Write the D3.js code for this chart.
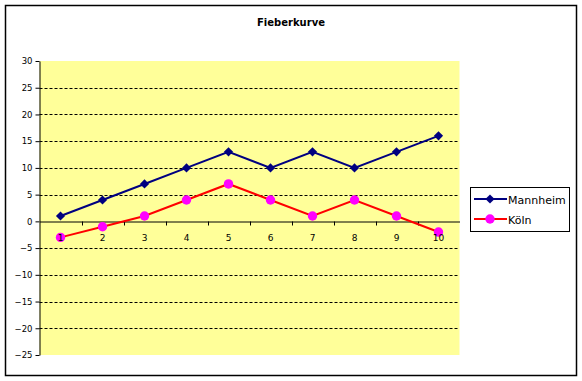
<!DOCTYPE html>
<html><head><meta charset="utf-8">
<script src="https://cdn.jsdelivr.net/npm/d3@7"></script>
<style>body{margin:0;background:#fff;} svg{display:block;}</style>
</head><body>
<script>
const categories = ["1","2","3","4","5","6","7","8","9","10"];
const mannheim = [1,4,7,10,13,10,13,10,13,16];
const koeln = [-3,-1,1,4,7,4,1,4,1,-2];
const yTicks = [30,25,20,15,10,5,0,-5,-10,-15,-20,-25];
const seriesNames = ["Mannheim","Köln"];
const title = "Fieberkurve";

(function(){
const W=582,H=381;
const svg=d3.select("body").append("svg").attr("width",W).attr("height",H);
svg.append("rect").attr("x",5.5).attr("y",5.5).attr("width",571).attr("height",370)
  .attr("fill","#fff").attr("stroke","#000").attr("stroke-width",1.5);

const pl=39.5,pr=459.5,pt=61,pb=355;
const x=d3.scaleBand().domain(categories).range([pl,pr]);
const y=d3.scaleLinear().domain([-25,30]).range([pb,pt]);

svg.append("rect").attr("x",pl).attr("y",pt).attr("width",pr-pl).attr("height",pb-pt).attr("fill","#ffff99");

svg.append("text").attr("x",291).attr("y",26).attr("text-anchor","middle")
  .attr("font-family","DejaVu Sans").attr("font-size",10).attr("font-weight","bold").text(title);

// grid
svg.append("g").selectAll("line").data(yTicks.filter(d=>d!==30&&d!==-25&&d!==0)).join("line")
  .attr("x1",pl).attr("x2",pr).attr("y1",d=>Math.round(y(d))+0.5).attr("y2",d=>Math.round(y(d))+0.5)
  .attr("stroke","#000").attr("stroke-dasharray","3,2");

// y axis
const ya=svg.append("g").attr("transform",`translate(${pl},0)`)
  .call(d3.axisLeft(y).tickValues(yTicks).tickSize(4).tickSizeOuter(0).tickFormat(d3.format("d")));
ya.select(".domain").attr("stroke","#000");
ya.selectAll("text").attr("font-family","DejaVu Sans").attr("font-size",8.5).attr("fill","#000").attr("x",-7);

// x axis line at 0
const y0=Math.round(y(0))+0.5;
const xa=svg.append("g").attr("transform",`translate(0,${y0})`)
  .call(d3.axisBottom(x).tickSize(0).tickSizeOuter(0).tickFormat(""));
xa.select(".domain").attr("stroke","#000");
svg.append("g").selectAll("line").data(categories.slice(1)).join("line")
  .attr("x1",d=>Math.round(x(d))+0.5).attr("x2",d=>Math.round(x(d))+0.5).attr("y1",y0).attr("y2",y0+4).attr("stroke","#000");

const cx=d=>x(d)+x.bandwidth()/2;
const line=d3.line().x((d,i)=>cx(categories[i])).y(d=>y(d));

svg.append("path").datum(mannheim).attr("d",line).attr("fill","none").attr("stroke","#000080").attr("stroke-width",2);
svg.append("path").datum(koeln).attr("d",line).attr("fill","none").attr("stroke","#ff0000").attr("stroke-width",2);

svg.append("g").selectAll("path").data(mannheim).join("path")
  .attr("d",d3.symbol().type(d3.symbolSquare).size(42))
  .attr("transform",(d,i)=>`translate(${cx(categories[i])},${y(d)}) rotate(45)`).attr("fill","#000080");
svg.append("g").selectAll("circle").data(koeln).join("circle")
  .attr("cx",(d,i)=>cx(categories[i])).attr("cy",d=>y(d)).attr("r",4.7).attr("fill","#ff00ff");

// x labels drawn on top
const xl=svg.append("g").attr("transform",`translate(0,${y0})`)
  .call(d3.axisBottom(x).tickSize(0).tickSizeOuter(0));
xl.select(".domain").remove();
xl.selectAll("text").attr("font-family","DejaVu Sans").attr("font-size",9).attr("fill","#000").attr("y",3).attr("dy","1.85em");

// legend
const lg=svg.append("g");
lg.append("rect").attr("x",470.5).attr("y",187.5).attr("width",99).attr("height",44).attr("fill","#fff").attr("stroke","#000");
const colors=["#000080","#ff0000"],mk=["#000080","#ff00ff"];
seriesNames.forEach((n,i)=>{
  const ly=199+i*20;
  lg.append("line").attr("x1",474).attr("x2",507).attr("y1",ly).attr("y2",ly).attr("stroke",colors[i]).attr("stroke-width",2);
  if(i===0) lg.append("path").attr("d",d3.symbol().type(d3.symbolSquare).size(42)).attr("transform",`translate(490,${ly}) rotate(45)`).attr("fill",mk[i]);
  else lg.append("circle").attr("cx",490).attr("cy",ly).attr("r",4.7).attr("fill",mk[i]);
  lg.append("text").attr("x",508).attr("y",ly+4.5).attr("font-family","DejaVu Sans").attr("font-size",11).attr("fill","#000").text(n);
});
})();
</script>
</body></html>
